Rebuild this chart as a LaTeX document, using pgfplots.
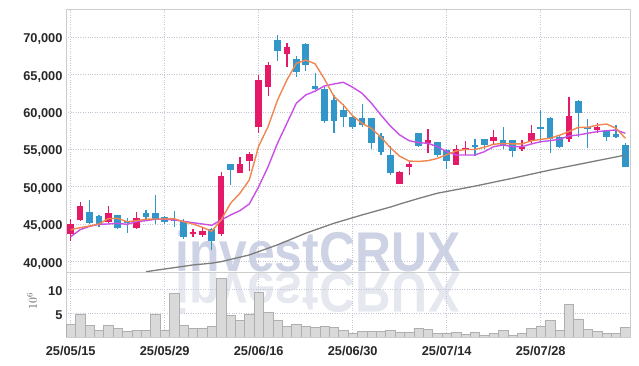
\documentclass[border=0pt]{standalone}
\usepackage{pgfplots}
\pgfplotsset{compat=1.18}
\usepackage{pgfplotstable}
\usepackage{fontspec}
\setmainfont{Liberation Sans}
\definecolor{upc}{RGB}{228,26,104}
\definecolor{dnc}{RGB}{50,150,200}
\definecolor{maA}{RGB}{240,135,80}
\definecolor{maB}{RGB}{200,80,230}
\definecolor{maC}{RGB}{125,125,125}
\definecolor{gridc}{RGB}{195,198,215}
\definecolor{framec}{RGB}{205,205,205}
\definecolor{wm}{RGB}{205,210,228}
\definecolor{wmb}{RGB}{230,232,240}
\definecolor{volf}{RGB}{217,217,217}
\definecolor{vole}{RGB}{175,175,175}
\definecolor{tickc}{RGB}{40,40,40}

\pgfplotstableread{
x o h l c
0 43650 45650 42700 45000
1 45550 48000 45500 47450
4 45300 47450 45200 46500
7 44550 46600 44400 45850
13 43700 44350 43300 43950
14 43600 44650 43300 44150
16 43700 51950 43450 51450
18 51900 53950 51900 53050
19 53400 54650 52100 54400
20 58050 65000 57150 64300
21 63400 66750 62200 66300
23 67750 69300 66050 68650
35 50400 52100 50400 52000
36 52700 53350 51550 53050
38 55850 57700 54500 56250
41 52950 55650 52950 55000
42 55050 56150 54300 55200
45 56150 57600 55750 56700
48 55050 56250 54750 55350
49 56150 58250 55750 57250
53 56350 62000 56000 59450
56 57600 58500 57250 58050
}\upt

\pgfplotstableread{
x o h l c
2 46650 48250 45050 45200
3 46100 46250 44600 44850
5 46200 46250 44400 44500
6 45500 45800 43900 45200
8 46500 46900 45500 46000
9 46450 48850 45000 45550
10 45950 46100 45100 45350
11 45700 46750 44650 45450
12 45500 45750 43050 43350
15 44350 44550 41550 42800
17 53050 53100 50200 52250
22 69650 70300 66800 68200
24 67050 67500 64650 65400
25 69100 69200 65500 66250
26 63500 65250 62700 63050
27 63050 63300 58600 58850
28 61600 62300 57150 58750
29 60300 61100 58050 59300
30 59400 59500 57800 57950
31 59200 61100 57950 58300
32 59200 59200 55100 55850
33 56800 57250 54250 54650
34 54250 55450 51650 51900
37 57150 57250 55300 55400
39 56000 56050 54000 54200
40 54950 55100 52450 53500
43 55650 56450 54150 55350
44 56350 56400 55050 55550
46 56250 57950 55100 55550
47 56250 56300 54050 54850
50 58050 60300 55900 57800
51 59200 59400 54500 56450
52 56650 56800 55200 55350
54 61500 61600 56700 59900
55 58050 59050 55200 57700
57 57450 57500 56100 56700
58 57050 58250 56550 56700
59 55650 55850 52700 52700
}\dnt

\pgfplotstableread{
x y
0 44270
1 44540
2 44770
3 45040
4 45745
5 45800
6 45345
7 45480
8 45670
9 45710
10 45710
11 45750
12 45345
13 45040
14 44600
15 44060
16 45570
17 47800
18 49140
19 50920
20 55450
21 58050
22 61600
23 64300
24 66500
25 66950
26 66450
27 64400
28 62100
29 60950
30 59500
31 58500
32 57800
33 56650
34 55250
35 54100
36 53450
37 53400
38 53500
39 53800
40 54300
41 54800
42 55000
43 55000
44 55300
45 55700
46 55800
47 55750
48 55750
49 56150
50 56350
51 56500
52 56900
53 57400
54 57950
55 57950
56 58250
57 58400
58 57850
59 56500
}\maa

\pgfplotstableread{
x y
0 43340
1 44270
2 44720
3 44990
4 45040
5 45130
6 44990
7 45345
8 45480
9 45670
10 45670
11 45570
12 45400
13 45210
14 45040
15 44865
16 45570
17 46240
18 46820
19 47710
20 50025
21 52700
22 55830
23 58500
24 61175
25 62285
26 62800
27 63490
28 63755
29 63980
30 63315
31 62510
32 61175
33 59610
34 58140
35 56940
36 56175
37 55910
38 55830
39 55373
40 54700
41 54265
42 54265
43 54265
44 54700
45 55373
46 55600
47 55373
48 55373
49 55735
50 56040
51 56175
52 56365
53 56805
54 56940
55 57165
56 57380
57 57510
58 57606
59 57165
}\mab

\pgfplotstableread{
x y
8 38660
13 39560
15 39800
16 40000
19 40900
22 42250
25 43800
28 45130
31 46250
34 47300
35 47700
37 48450
39 49150
43 50100
47 51150
51 52250
55 53250
59 54250
}\mac

\pgfplotstableread{
x v
0 2.56
1 4.85
2 2.5
3 1.45
4 2.5
5 1.72
6 1.25
7 1.45
8 1.45
9 4.85
10 1.45
11 9.15
12 2.5
13 1.72
14 1.72
15 2.15
16 12.3
17 4.44
18 3.4
19 4.85
20 9.4
21 5.13
22 3.53
23 2.15
24 2.56
25 2.15
26 1.94
27 2.2
28 1.94
29 1.45
30 0.83
31 1.1
32 1.1
33 1.1
34 1.3
35 0.97
36 0.97
37 1.87
38 1.52
39 0.69
40 0.69
41 0.9
42 0.48
43 0.9
44 0.42
45 0.69
46 1.3
47 0.42
48 0.69
49 1.72
50 2.15
51 3.4
52 1.3
53 6.87
54 3.8
55 1.52
56 1.1
57 0.69
58 0.69
59 1.94
}\volt

\begin{document}
\begin{tikzpicture}
\path[use as bounding box] (0pt,0pt) rectangle (639pt,366pt);
\fill[white] (0pt,0pt) rectangle (639pt,366pt);
% watermark
\node[anchor=base west, inner sep=0pt, text=wm, font=\fontsize{56}{56}\selectfont\bfseries] at (175pt,94pt) {\scalebox{0.89}[1]{investCRUX}};
\node[anchor=base west, inner sep=0pt, text=wmb, font=\fontsize{56}{56}\selectfont\bfseries] at (175pt,92pt) {\scalebox{0.89}[-1]{investCRUX}};

\pgfplotsset{
  chartbase/.style={
    scale only axis, anchor=south west,
    xmin=-0.5, xmax=59.5,
    xtick={0,10,...,50},
    grid=major,
    major grid style={gridc, dotted, line width=0.8pt},
    axis line style={framec, line width=0.8pt},
    major tick length=0pt,
    tick style={draw=none},
    tick label style={font=\fontsize{12.8}{13}\selectfont\bfseries, text=tickc},
    yticklabel style={yshift=-2pt},
    scaled y ticks=false,
    /pgf/number format/assume math mode=true,
  }
}

\begin{axis}[chartbase, at={(66pt,94pt)}, width=564pt, height=263pt,
  ymin=38620, ymax=73780,
  xticklabels={},
  ytick={40000,45000,...,70000},
  yticklabel style={/pgf/number format/fixed, /pgf/number format/1000 sep={,}},
]
% wicks
\addplot[forget plot, draw=none, mark=none,
  error bars/.cd, y dir=both, y explicit, error mark=none,
  error bar style={draw=upc, line width=1.2pt, solid}]
  table[x=x, y expr={(\thisrow{h}+\thisrow{l})/2}, y error expr={(\thisrow{h}-\thisrow{l})/2}] {\upt};
\addplot[forget plot, draw=none, mark=none,
  error bars/.cd, y dir=both, y explicit, error mark=none,
  error bar style={draw=dnc, line width=1.2pt, solid}]
  table[x=x, y expr={(\thisrow{h}+\thisrow{l})/2}, y error expr={(\thisrow{h}-\thisrow{l})/2}] {\dnt};
% bodies
\addplot[forget plot, draw=none, mark=none,
  error bars/.cd, y dir=both, y explicit, error mark=none,
  error bar style={draw=upc, line width=6.5pt, solid}]
  table[x=x, y expr={(\thisrow{o}+\thisrow{c})/2}, y error expr={max(abs(\thisrow{c}-\thisrow{o})/2,90)}] {\upt};
\addplot[forget plot, draw=none, mark=none,
  error bars/.cd, y dir=both, y explicit, error mark=none,
  error bar style={draw=dnc, line width=6.5pt, solid}]
  table[x=x, y expr={(\thisrow{o}+\thisrow{c})/2}, y error expr={max(abs(\thisrow{c}-\thisrow{o})/2,90)}] {\dnt};
% moving averages
\addplot[maC, line width=1.3pt, mark=none] table[x=x,y=y] {\mac};
\addplot[maB, line width=1.4pt, mark=none] table[x=x,y=y] {\mab};
\addplot[maA, line width=1.4pt, mark=none] table[x=x,y=y] {\maa};
\end{axis}

\begin{axis}[chartbase, at={(66pt,29pt)}, width=564pt, height=65pt,
  ymin=0, ymax=13.6,
  ytick={5,10},
  xticklabels={25/05/15,25/05/29,25/06/16,25/06/30,25/07/14,25/07/28},
  xticklabel style={yshift=-5.5pt},
]
\addplot[ybar, bar width=1, fill=volf, draw=vole, line width=0.6pt] table[x=x,y=v] {\volt};
\end{axis}

\node[rotate=90, text={rgb,255:red,90;green,90;blue,90}, font=\fontsize{12}{12}\selectfont] at (32pt,65pt) {$10^6$};
\end{tikzpicture}
\end{document}
